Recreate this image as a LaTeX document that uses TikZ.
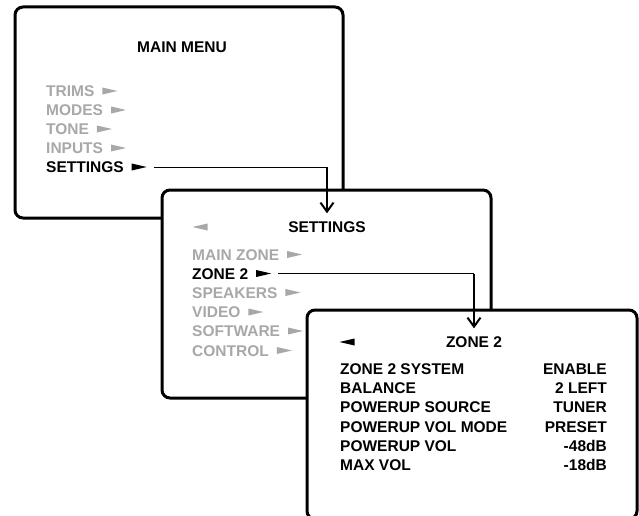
\documentclass[tikz,border=0pt]{standalone}
\usepackage{fontspec}
\setmainfont{Liberation Sans}
\usetikzlibrary{positioning,arrows.meta}
\definecolor{dimgray}{RGB}{168,168,168}
\newcommand{\nextmark}{\hspace{8pt}\tikz[x=1pt,y=1pt,baseline=0pt]
  \fill (0,2) -- (15,5.5) -- (0,9) -- cycle;}
\newcommand{\backmark}{\tikz[x=1pt,y=1pt,baseline=0pt]
  \fill (15,2) -- (0,5.5) -- (15,9) -- cycle;}

\begin{document}
\begin{tikzpicture}[x=1pt, y=-1pt,
    menu/.style={draw=black, fill=white, line width=3pt, rounded corners=8pt},
    item/.style={anchor=west, inner sep=0pt, text height=11pt, text depth=0pt,
      font=\bfseries\fontsize{15.5}{19}\selectfont},
    off/.style={item, text=dimgray},
    title/.style={item, anchor=center},
    value/.style={item, anchor=east},
    link/.style={line width=1pt, shorten <=7pt},
    drop/.style={line width=2pt, -{Straight Barb[length=9pt,width=13pt]},
      shorten >=8pt}
  ]
  \useasboundingbox (0,0) rectangle (639,516);

  % main menu
  \draw[menu] (15,7) rectangle (343,218);
  \node[title] (M0) at (182,47) {MAIN MENU};
  \node[off] (M1) at (46,91) {TRIMS\nextmark};
  \node[off] (M2) at (46,110) {MODES\nextmark};
  \node[off] (M3) at (46,129) {TONE\nextmark};
  \node[off] (M4) at (46,148) {INPUTS\nextmark};
  \node[item] (M5) at (46,167) {SETTINGS\nextmark};

  % settings menu
  \draw[menu] (162,190) rectangle (491,398);
  \node[title, text=dimgray] (Sb) at (200,227) {\backmark};
  \node[title] (S0) at (327,227) {SETTINGS};
  \node[off] (S1) at (192,254.5) {MAIN ZONE\nextmark};
  \node[item] (S2) at (192,273.5) {ZONE 2\nextmark};
  \node[off] (S3) at (192,292.5) {SPEAKERS\nextmark};
  \node[off] (S4) at (192,312) {VIDEO\nextmark};
  \node[off] (S5) at (192,331) {SOFTWARE\nextmark};
  \node[off] (S6) at (192,350.5) {CONTROL\nextmark};

  % zone 2 menu
  \draw[menu] (307,310) rectangle (637,519);
  \node[title] (Zb) at (347,342) {\backmark};
  \node[title] (Z0) at (474,342) {ZONE 2};
  \node[item] (Z1) at (340,369) {ZONE 2 SYSTEM};
  \node[item] (Z2) at (340,388) {BALANCE};
  \node[item] (Z3) at (340,407) {POWERUP SOURCE};
  \node[item] (Z4) at (340,427) {POWERUP VOL MODE};
  \node[item] (Z5) at (340,446) {POWERUP VOL};
  \node[item] (Z6) at (340,465) {MAX VOL};
  \node[value] (V1) at (607,369) {ENABLE};
  \node[value] (V2) at (607,388) {2 LEFT};
  \node[value] (V3) at (607,407) {TUNER};
  \node[value] (V4) at (607,427) {PRESET};
  \node[value] (V5) at (607,446) {-48dB};
  \node[value] (V6) at (607,465) {-18dB};

  % connectors
  \coordinate (k1) at (M5.east -| S0.north);
  \coordinate (k2) at (S2.east -| Z0.north);
  \draw[link] (M5.east) -- (k1);
  \draw[drop] (k1) -- (S0.north);
  \draw[link] (S2.east) -- (k2);
  \draw[drop] (k2) -- (Z0.north);
\end{tikzpicture}
\end{document}
